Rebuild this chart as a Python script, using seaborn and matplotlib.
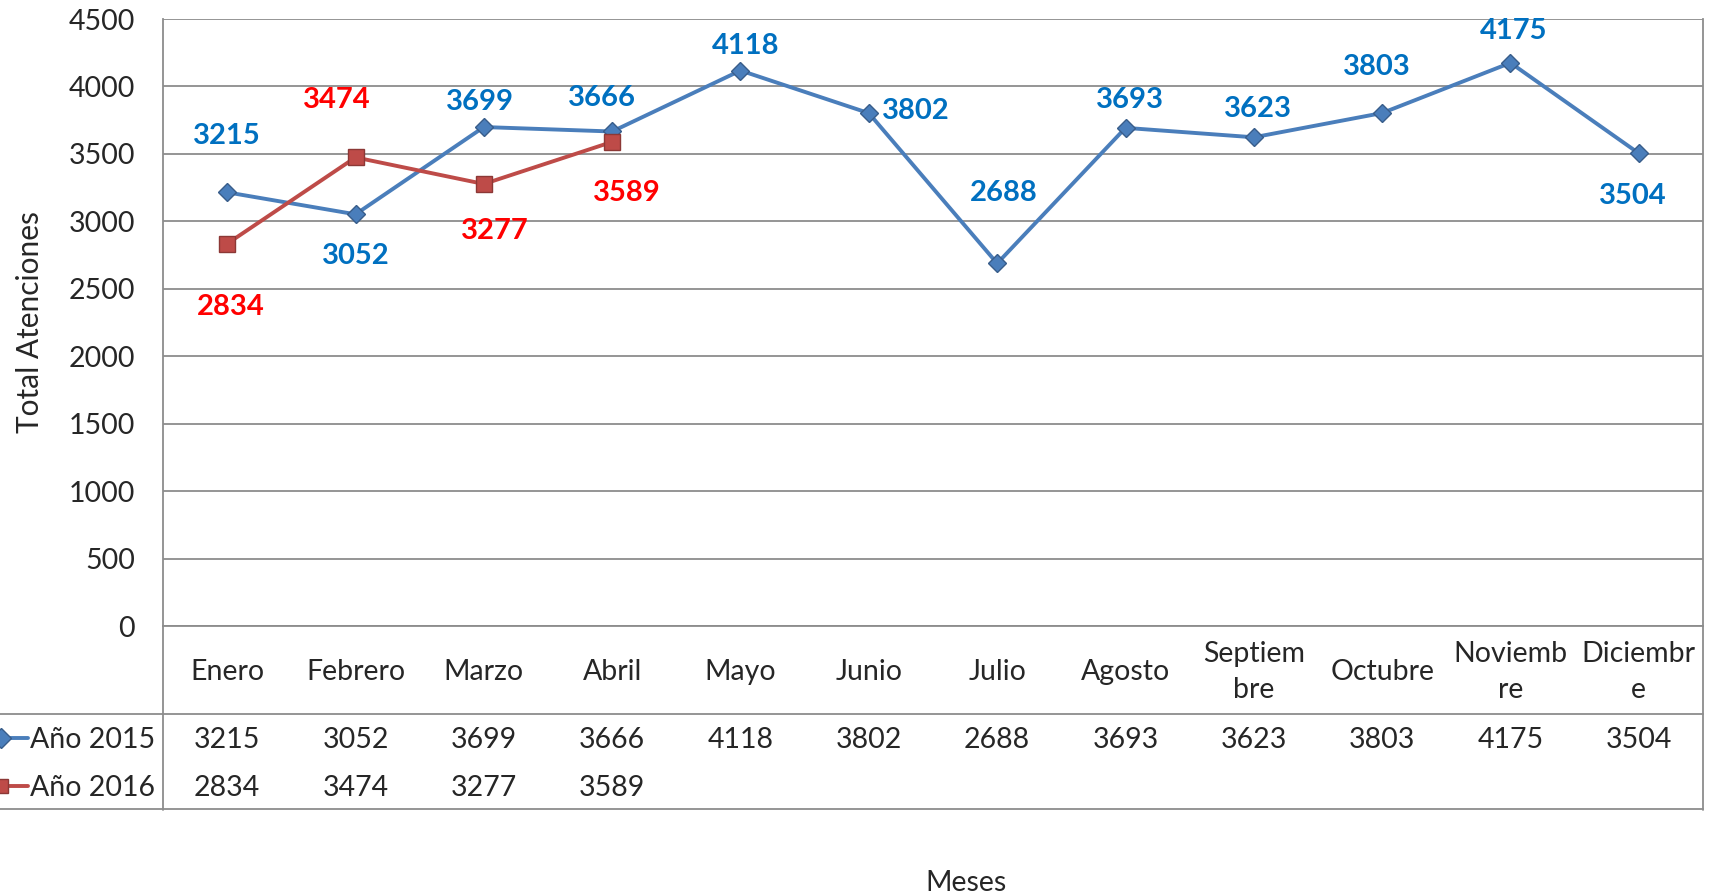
import numpy as np
import pandas as pd
import matplotlib
matplotlib.use("Agg")
import matplotlib.pyplot as plt
import seaborn as sns

# datos
meses = ["Enero", "Febrero", "Marzo", "Abril", "Mayo", "Junio", "Julio",
         "Agosto", "Septiem\nbre", "Octubre", "Noviemb\nre", "Diciembr\ne"]
serie_2015 = [3215, 3052, 3699, 3666, 4118, 3802, 2688, 3693, 3623, 3803, 4175, 3504]
serie_2016 = [2834, 3474, 3277, 3589]
nombres = ["Año 2015", "Año 2016"]
y_ticks = [0, 500, 1000, 1500, 2000, 2500, 3000, 3500, 4000, 4500]

# posiciones de las etiquetas (pixeles, a ojo)
off_2015 = [(0, 56), (0, -42), (-4, 25), (-10, 33), (5, 25), (47, 2), (7, 70),
            (4, 28), (4, 28), (-5, 46), (3, 32), (-6, -43)]
off_2016 = [(4, -63), (-19, 57), (11, -47), (15, -51)]

sns.set_style("white")
plt.rcParams['font.family'] = ['Lato', 'DejaVu Sans']

azul, rojo = "#4A7EBB", "#BE4B48"
azul_txt, rojo_txt = "#0070C0", "#FF0000"
gris = "#8C8C8C"

W, H = 1713, 896
L, R, T, B = 163, 1703, 19, 626   # area del grafico en pixeles
TB = 810                           # fondo de la tabla
fig = plt.figure(figsize=(W / 100, H / 100), dpi=100)
ax = fig.add_axes([L / W, 1 - B / H, (R - L) / W, (B - T) / H])

x = np.arange(len(meses))
df = pd.DataFrame({"x": list(x) + list(x[:len(serie_2016)]),
                   "val": serie_2015 + serie_2016,
                   "serie": [nombres[0]] * len(serie_2015) + [nombres[1]] * len(serie_2016)})

sns.lineplot(data=df, x="x", y="val", hue="serie", style="serie",
             palette=[azul, rojo], markers=["D", "s"], dashes=False,
             linewidth=2.8, markersize=12, legend=False, ax=ax)
for ln, ec in zip(ax.lines, ["#385D8A", "#8C3836"]):
    ln.set_markeredgecolor(ec)
    ln.set_markeredgewidth(1)
ax.lines[0].set_markersize(9.5)

for xi, v, (dx, dy) in zip(x, serie_2015, off_2015):
    ax.annotate(str(v), (xi, v), xytext=(dx, dy), textcoords="offset pixels",
                ha="center", va="center", color=azul_txt, fontsize=21, fontweight="bold")
for xi, v, (dx, dy) in zip(x, serie_2016, off_2016):
    ax.annotate(str(v), (xi, v), xytext=(dx, dy), textcoords="offset pixels",
                ha="center", va="center", color=rojo_txt, fontsize=21, fontweight="bold")

ax.set_xlim(-0.5, len(meses) - 0.5)
ax.set_ylim(0, 4500)
ax.set_yticks(y_ticks)
ax.set_xticks([])
ax.tick_params(axis="y", labelsize=20.5, length=8, width=1.3, color=gris, pad=12, direction="out")
ax.grid(axis="y", color=gris, linewidth=1.3)
ax.set_axisbelow(True)
for s in ["top", "bottom"]:
    ax.spines[s].set_visible(False)
for s in ["left", "right"]:
    ax.spines[s].set_color(gris)
    ax.spines[s].set_linewidth(1.3)
ax.set_xlabel("")
ax.set_ylabel("")

# tabla de datos debajo del grafico
tab = fig.add_axes([0, 1 - TB / H, R / W, (TB - B) / H])
upx = (R - L) / len(meses)
tab.set_xlim(-0.5 - L / upx, len(meses) - 0.5)
tab.set_ylim(TB, B)
tab.axis("off")
x0 = -0.5 - L / upx
tab.plot([-0.5, -0.5], [B, TB], color=gris, lw=1.3, clip_on=False)
tab.plot([len(meses) - 0.5] * 2, [B, TB], color=gris, lw=1.3, clip_on=False)
tab.plot([x0, len(meses) - 0.5], [714, 714], color=gris, lw=1.3, clip_on=False)
tab.plot([x0, len(meses) - 0.5], [TB - 1, TB - 1], color=gris, lw=1.3, clip_on=False)
tab.plot([-0.5, len(meses) - 0.5], [B, B], color=gris, lw=1.3, clip_on=False)

for xi, m in zip(x, meses):
    tab.text(xi, 672, m, ha="center", va="center", fontsize=20.5, linespacing=1.45)

filas = [(serie_2015, 740, azul, "D", "#385D8A"), (serie_2016, 788, rojo, "s", "#8C3836")]
for (vals, yy, c, mk, ec), nom in zip(filas, nombres):
    for xi, v in zip(x, vals):
        tab.text(xi, yy, str(v), ha="center", va="center", fontsize=20.5)
    tab.text(-0.5 - 8 / upx, yy, nom, ha="right", va="center", fontsize=20.5)
    tab.plot([x0, x0 + 28 / upx], [yy - 2, yy - 2], color=c, lw=2.8)
    tab.plot([x0 + 1 / upx], [yy - 2], marker=mk, color=c, mec=ec, ms=10)

fig.text(966 / W, 1 - 883 / H, "Meses", ha="center", va="center", fontsize=20.5)
fig.text(30 / W, 1 - 322 / H, "Total Atenciones", ha="center", va="center",
         fontsize=21.5, rotation=90)

fig.savefig("out.png", dpi=100)
